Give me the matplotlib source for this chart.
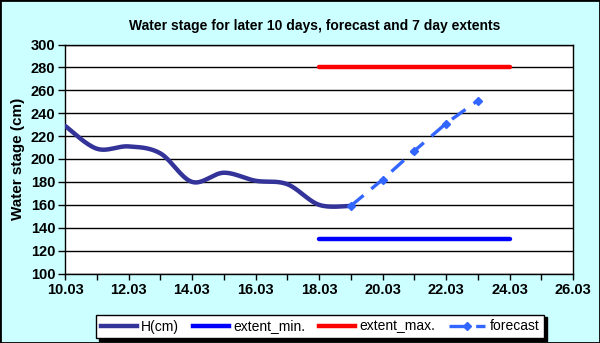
import numpy as np
import matplotlib
matplotlib.use("Agg")
import matplotlib.pyplot as plt
from matplotlib.lines import Line2D
from matplotlib.patches import Rectangle

# ---- data ----
h_days = [10, 11, 12, 13, 14, 15, 16, 17, 18, 19]
h_vals = [229, 209, 211, 205, 180, 188, 181, 178, 160, 159]
fc_days = [19, 20, 21, 22, 23]
fc_vals = [159, 182, 207, 231, 251]
ext_days = [18, 24]
ext_min = [130, 130]
ext_max = [280, 280]
xtick_days = [10, 12, 14, 16, 18, 20, 22, 24, 26]
xtick_labels = [f"{d:02d}.03" for d in xtick_days]
yticks = list(range(100, 301, 20))

TITLE = "Water stage for later 10 days, forecast and 7 day extents"


def smooth(xs, ys, n=30):
    """Excel-like smoothed line (Bezier through points)."""
    x = np.asarray(xs, float)
    y = np.asarray(ys, float)
    P = np.column_stack([x, y])
    P = np.vstack([P[0], P, P[-1]])
    out = []
    t = np.linspace(0, 1, n)[:, None]
    for i in range(1, len(P) - 2):
        p0, p1, p2, p3 = P[i - 1], P[i], P[i + 1], P[i + 2]
        c1 = p1 + (p2 - p0) / 6.0
        c2 = p2 - (p3 - p1) / 6.0
        seg = ((1 - t) ** 3) * p1 + 3 * ((1 - t) ** 2) * t * c1 + 3 * (1 - t) * t ** 2 * c2 + t ** 3 * p2
        out.append(seg if i == 1 else seg[1:])
    out = np.vstack(out)
    return out[:, 0], out[:, 1]


plt.rcParams['font.family'] = ['Liberation Sans', 'DejaVu Sans']

fig = plt.figure(figsize=(6.0, 3.43), dpi=100)
fig.patch.set_facecolor('#CCFFFF')
ax = fig.add_axes([65 / 600, 1 - 273.5 / 343, (573 - 65) / 600, (273.5 - 44.5) / 343])
ax.set_facecolor('white')

c_h = '#333399'
c_min = '#0000FF'
c_max = '#FF0000'
c_fc = '#3366FF'

sx, sy = smooth(h_days, h_vals)
ax.plot(sx, sy, color=c_h, lw=3.2, solid_capstyle='round', zorder=4)
ax.plot(ext_days, ext_min, color=c_min, lw=3.2, solid_capstyle='round', zorder=3)
ax.plot(ext_days, ext_max, color=c_max, lw=3.2, solid_capstyle='round', zorder=3)
ax.plot(fc_days, fc_vals, color=c_fc, lw=2.4, ls=(0, (5, 3)), marker='D', ms=4,
        zorder=5)

ax.set_xlim(10, 26)
ax.set_ylim(100, 300)
ax.set_yticks(yticks)
ax.set_xticks(xtick_days)
ax.set_xticklabels(xtick_labels)
ax.set_xticks(range(10, 27), minor=True)
ax.tick_params(axis='both', which='both', direction='out', color='black', width=1)
ax.tick_params(axis='x', which='major', length=4, labelsize=10.5, pad=3)
ax.tick_params(axis='x', which='minor', length=4)
ax.tick_params(axis='y', which='major', length=5, labelsize=10.5, pad=2)
for lab in ax.get_xticklabels() + ax.get_yticklabels():
    lab.set_fontweight('bold')
ax.yaxis.grid(True, color='black', lw=1)
ax.set_axisbelow(True)
for s in ax.spines.values():
    s.set_color('black')
    s.set_linewidth(1)

ax.set_ylabel("Water stage (cm)", fontsize=11, fontweight='bold', labelpad=4)
fig.text(315 / 600, 1 - 26 / 343, TITLE, ha='center', va='center', fontsize=10, fontweight='bold')

handles = [
    Line2D([], [], color=c_h, lw=3.2),
    Line2D([], [], color=c_min, lw=3.2),
    Line2D([], [], color=c_max, lw=3.2),
    Line2D([], [], color=c_fc, lw=2.4, ls=(0, (5, 3)), marker='D', ms=4),
]
labels = ["H(cm)", "extent_min.", "extent_max.", "forecast"]
leg = fig.legend(handles, labels, loc='center', bbox_to_anchor=(320 / 600, 1 - 326.5 / 343),
                 ncol=4, frameon=True, fancybox=False, shadow={'color': 'black', 'alpha': 1},
                 fontsize=10, handlelength=2.6, handletextpad=0.3, columnspacing=1.0,
                 borderpad=0.35, edgecolor='black')
leg.get_frame().set_linewidth(1)

fig.patches.append(Rectangle((0, 0), 1, 1, transform=fig.transFigure, fill=False,
                             edgecolor='black', lw=2))

fig.savefig('out.png', dpi=100, facecolor=fig.get_facecolor())
